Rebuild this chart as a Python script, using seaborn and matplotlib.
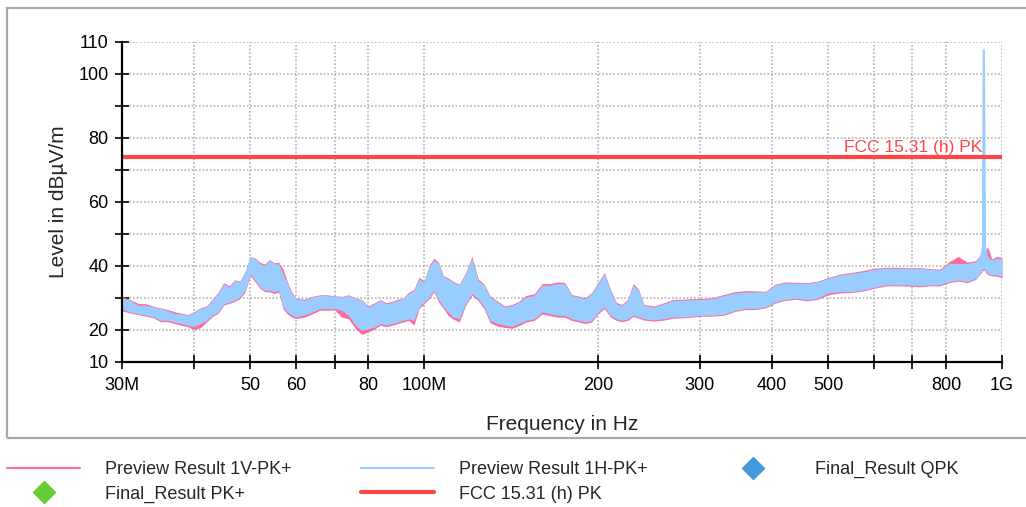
import numpy as np
import pandas as pd
import seaborn as sns
import matplotlib
matplotlib.use("Agg")
import matplotlib.pyplot as plt
from matplotlib.lines import Line2D
from matplotlib.patches import Rectangle
from matplotlib.transforms import blended_transform_factory

# Frequency grid of the scan (MHz)
freq_mhz = [30, 31, 32, 33, 34, 35, 36, 37, 38, 39, 40, 41, 42, 43, 44, 45, 46, 47, 48, 49,
            50, 51, 52, 53, 54, 55, 56, 57, 58, 59, 60, 62, 64, 66, 68, 70, 72, 74, 76, 78,
            80, 82, 84, 86, 88, 90, 92, 94, 96, 98, 100, 102, 104, 106, 108, 110, 112, 115,
            118, 121, 124, 127, 130, 134, 138, 142, 146, 150, 155, 160, 165, 170, 175, 180,
            185, 190, 195, 200, 205, 210, 215, 220, 225, 230, 235, 240, 250, 260, 270, 280,
            290, 300, 315, 330, 345, 360, 375, 390, 405, 420, 440, 460, 480, 500, 525, 550,
            575, 600, 630, 660, 690, 720, 750, 780, 810, 840, 870, 900, 915, 921, 924, 932,
            937, 945, 960, 980, 1000]

# Preview Result 1H-PK+ : upper / lower level of the trace (dBuV/m)
h_high = [30.0, 29.3, 27.7, 27.7, 27.2, 26.7, 26.1, 25.1, 25.1, 24.6, 25.6, 26.7, 27.2, 29.3,
          31.4, 34.5, 33.4, 35.5, 35.0, 38.1, 42.8, 42.3, 40.7, 40.2, 41.8, 40.7, 40.7, 37.6,
          34.5, 31.4, 29.8, 29.3, 30.3, 30.8, 30.8, 30.5, 30.3, 30.8, 29.8, 29.3, 27.2, 28.2,
          29.3, 28.2, 28.7, 29.3, 29.8, 31.4, 32.4, 36.0, 35.0, 39.7, 41.8, 40.7, 36.6, 36.0,
          35.0, 34.0, 37.6, 42.3, 35.5, 34.0, 30.3, 28.7, 27.2, 27.7, 28.7, 30.3, 30.8, 34.0,
          34.0, 34.5, 34.5, 30.8, 30.3, 29.8, 31.4, 34.5, 37.6, 32.4, 28.2, 27.7, 29.3, 34.0,
          32.4, 27.7, 27.2, 28.2, 29.3, 29.3, 29.5, 29.5, 29.8, 30.8, 31.6, 31.9, 31.9, 31.9,
          34.0, 34.7, 34.6, 34.6, 35.1, 36.1, 37.2, 37.7, 38.2, 39.0, 39.3, 39.3, 39.3, 39.3,
          39.0, 38.7, 40.8, 40.8, 40.8, 41.4, 42.9, 46.0, 107.8, 107.8, 46.0, 42.9, 41.9, 42.4,
          42.4]
h_low = [26.5, 25.6, 25.1, 24.6, 24.1, 23.0, 23.0, 22.5, 22.0, 21.5, 21.1, 22.0, 23.0, 24.6,
         25.6, 28.2, 28.7, 29.3, 30.3, 32.4, 37.6, 35.5, 33.4, 32.4, 32.4, 31.9, 32.4, 27.2,
         25.6, 24.6, 24.1, 24.6, 25.6, 26.7, 26.7, 26.7, 26.1, 24.6, 21.5, 19.9, 20.4, 20.9,
         22.0, 21.5, 22.0, 22.5, 23.0, 23.5, 23.0, 27.2, 28.7, 30.3, 32.4, 29.3, 27.2, 25.6,
         24.1, 23.5, 28.2, 31.4, 29.8, 27.2, 23.0, 22.0, 21.5, 21.1, 22.0, 23.0, 23.5, 25.6,
         25.1, 24.6, 24.6, 23.5, 23.0, 22.5, 23.0, 25.6, 27.2, 24.6, 23.5, 23.0, 23.5, 24.6,
         24.1, 23.5, 23.2, 23.5, 24.1, 24.1, 24.3, 24.6, 24.6, 24.9, 26.1, 26.7, 26.7, 27.2,
         28.7, 29.5, 29.9, 29.4, 29.9, 31.5, 32.0, 32.0, 32.5, 33.3, 34.1, 34.1, 34.1, 33.8,
         34.1, 34.1, 35.1, 35.6, 35.1, 36.1, 37.7, 38.5, 39.0, 39.0, 38.5, 37.7, 37.2, 37.2,
         36.7]

# Preview Result 1V-PK+ : upper / lower level of the trace (dBuV/m)
v_high = [30.5, 29.5, 28.3, 28.2, 27.4, 26.9, 26.4, 25.7, 25.3, 24.8, 25.8, 26.9, 27.5, 29.6,
          31.8, 34.8, 33.8, 35.7, 35.3, 38.3, 42.9, 42.5, 41.1, 40.6, 42.0, 41.0, 41.2, 39.0,
          35.0, 31.8, 30.0, 29.6, 30.5, 31.0, 31.0, 30.7, 30.5, 31.0, 30.0, 29.5, 27.5, 28.5,
          29.5, 28.5, 29.0, 29.6, 30.0, 31.8, 32.7, 36.5, 35.3, 40.2, 42.4, 41.0, 36.9, 36.3,
          35.3, 34.3, 37.9, 43.0, 36.0, 34.3, 30.7, 29.0, 27.5, 28.0, 29.0, 30.8, 31.3, 34.5,
          34.5, 35.0, 34.9, 31.1, 30.6, 30.1, 31.7, 34.9, 38.0, 32.8, 28.6, 28.0, 29.6, 34.5,
          32.7, 28.0, 27.5, 28.5, 29.6, 29.6, 29.8, 29.8, 30.1, 31.1, 32.0, 32.3, 32.2, 32.1,
          34.3, 35.0, 34.9, 34.8, 35.3, 36.4, 37.5, 38.0, 38.6, 39.3, 39.6, 39.6, 39.5, 39.5,
          39.2, 39.0, 41.3, 43.0, 41.2, 41.7, 43.2, 45.0, 46.0, 45.5, 45.0, 46.0, 42.2, 43.0,
          42.7]
v_low = [26.0, 25.3, 24.8, 24.3, 23.8, 22.6, 22.6, 22.0, 21.5, 21.0, 20.1, 20.7, 22.5, 24.2,
         25.2, 27.8, 28.3, 28.9, 29.8, 31.9, 37.0, 35.0, 33.0, 32.0, 31.9, 31.4, 31.8, 26.6,
         25.0, 24.0, 23.6, 24.0, 25.0, 26.2, 26.2, 26.3, 24.0, 23.5, 20.5, 18.6, 19.4, 20.3,
         21.5, 21.0, 21.5, 22.0, 22.5, 23.0, 21.5, 26.7, 28.2, 29.8, 31.9, 28.6, 26.7, 24.6,
         23.5, 22.5, 27.7, 30.9, 29.2, 26.6, 22.3, 21.2, 20.8, 20.5, 21.4, 22.5, 23.0, 25.0,
         24.5, 24.0, 24.0, 23.0, 22.5, 22.0, 22.5, 25.1, 26.7, 24.1, 23.0, 22.6, 23.0, 24.2,
         23.7, 23.1, 22.8, 23.1, 23.7, 23.8, 24.0, 24.3, 24.3, 24.6, 25.8, 26.4, 26.4, 26.9,
         28.4, 29.2, 29.6, 29.1, 29.6, 31.0, 31.6, 31.7, 32.2, 33.0, 33.8, 33.8, 33.7, 33.5,
         33.8, 33.8, 34.8, 35.3, 34.8, 35.8, 37.4, 38.0, 38.5, 38.7, 38.0, 37.3, 36.9, 36.8,
         36.3]

# FCC 15.31 (h) PK limit
limit_freq = [30, 1000]
limit_level = [74, 74]
limit_name = "FCC 15.31 (h) PK"

# Axis ticks
x_ticks = [30, 40, 50, 60, 70, 80, 100, 200, 300, 400, 500, 600, 700, 800, 1000]
x_tick_labels = ["30M", "", "50", "60", "", "80", "100M", "200", "300", "400", "500", "", "", "800", "1G"]
y_ticks = [10, 20, 30, 40, 50, 60, 70, 80, 90, 100, 110]
y_tick_labels = ["10", "20", "", "40", "", "60", "", "80", "", "100", "110"]

PINK = "#ff6b9a"
BLUE = "#99ccff"
RED = "#ff4646"
GREEN = "#66cc33"
QPK_BLUE = "#4499dd"

sns.set_style("white")
plt.rcParams["font.family"] = ["Liberation Sans", "DejaVu Sans"]

fig = plt.figure(figsize=(10.26, 5.07), dpi=100)
ax = fig.add_axes([122 / 1026, 1 - 362 / 507, 880 / 1026, 320 / 507])

df = pd.DataFrame({"freq": freq_mhz, "h_hi": h_high, "h_lo": h_low,
                   "v_hi": v_high, "v_lo": v_low})

# Vertical polarisation first, horizontal on top of it
ax.fill_between(df["freq"], df["v_lo"], df["v_hi"], color=PINK, lw=0, zorder=2)
ax.fill_between(df["freq"], df["h_lo"], df["h_hi"], color=BLUE, lw=0, zorder=3)

lim = pd.DataFrame({"freq": limit_freq, "level": limit_level})
sns.lineplot(data=lim, x="freq", y="level", color=RED, lw=3, ax=ax, zorder=4)

trans = blended_transform_factory(ax.transAxes, ax.transData)
ax.text(0.978, 74.8, limit_name, transform=trans, ha="right", va="bottom",
        color=RED, fontsize=12.5, zorder=5)

ax.set_xscale("log")
ax.set_xlim(30, 1000)
ax.set_ylim(10, 110)
ax.set_xticks(x_ticks)
ax.set_xticklabels(x_tick_labels)
ax.xaxis.set_minor_locator(matplotlib.ticker.NullLocator())
ax.set_yticks(y_ticks)
ax.set_yticklabels(y_tick_labels)

ax.grid(True, which="major", color="#b4b4b4", lw=1.2, ls=(0, (1.0, 1.2)), zorder=1)
for side in ["top", "right"]:
    ax.spines[side].set_visible(False)
for side in ["left", "bottom"]:
    ax.spines[side].set_color("black")
    ax.spines[side].set_linewidth(1.6)
    ax.spines[side].set_zorder(6)

ax.tick_params(axis="both", direction="inout", length=9.5, width=1.2, color="black",
               labelsize=13, labelcolor="black", bottom=True, left=True)
ax.tick_params(axis="y", pad=5)
ax.tick_params(axis="x", pad=6)

ax.set_xlabel("Frequency in Hz", fontsize=15, labelpad=15)
ax.set_ylabel("Level in dBµV/m", fontsize=15, labelpad=7)

# Outer chart frame
fig.patches.append(Rectangle((7 / 1026, 1 - 438 / 507), 1.02, 430 / 507,
                             transform=fig.transFigure, fill=False,
                             edgecolor="#a8a8a8", lw=1.6, clip_on=False))

handles = [
    Line2D([], [], color=PINK, lw=1.5),
    Line2D([], [], ls="none", marker="D", ms=11, color=GREEN, mec=GREEN),
    Line2D([], [], color=BLUE, lw=1.5),
    Line2D([], [], color=RED, lw=3),
    Line2D([], [], ls="none", marker="D", ms=11, color=QPK_BLUE, mec=QPK_BLUE),
]
labels = ["Preview Result 1V-PK+", "Final_Result PK+", "Preview Result 1H-PK+",
          "FCC 15.31 (h) PK", "Final_Result QPK"]
fig.legend(handles, labels, ncol=3, loc="upper left",
           bbox_to_anchor=(7 / 1026, 1 - 461 / 507), frameon=False, fontsize=13,
           borderpad=0, borderaxespad=0, handlelength=4.05, handletextpad=1.4,
           columnspacing=3.8, labelspacing=0.42)

fig.savefig("out.png", dpi=100)
